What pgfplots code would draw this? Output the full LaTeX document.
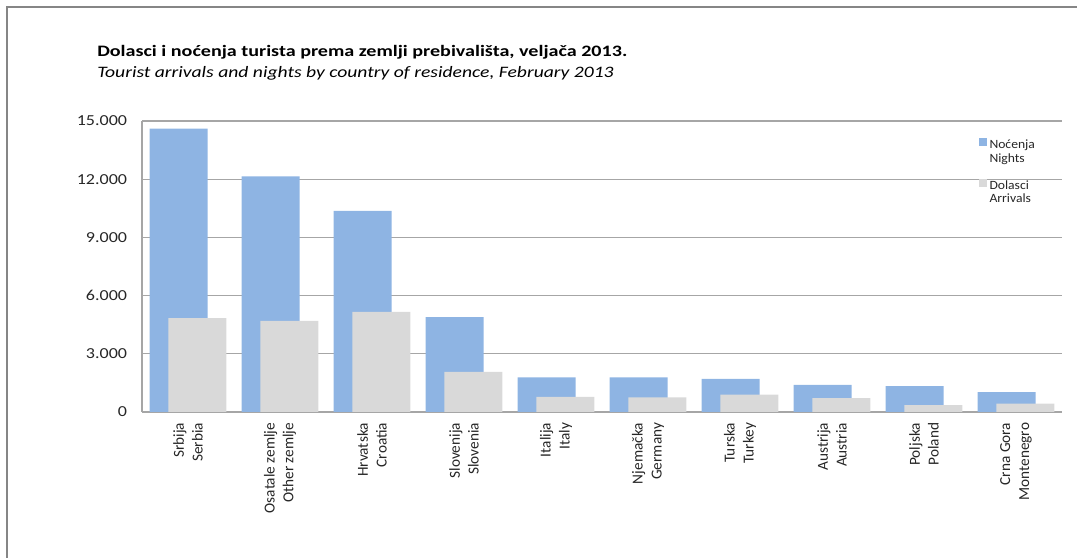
\documentclass[border=0pt]{standalone}
\usepackage{fontspec}
\setmainfont{Carlito}
\newfontfamily\titlefont[FakeStretch=1.26]{Carlito}
\newfontfamily\subfont[FakeStretch=1.23]{Carlito}
\newfontfamily\tickfont[FakeStretch=1.18]{Carlito}
\newfontfamily\legfont[FakeStretch=1.08]{Carlito}
\usepackage{pgfplots}
\pgfplotsset{compat=1.18}

\definecolor{nightsblue}{HTML}{8EB4E3}
\definecolor{arrgrey}{HTML}{D9D9D9}
\definecolor{gridgrey}{HTML}{A6A6A6}
\definecolor{framegrey}{HTML}{868686}
\definecolor{labtext}{HTML}{262626}

% nights (Nocenja) and arrivals (Dolasci), February 2013
\pgfplotstableread{
x nights arrivals
0 14610 4840
1 12140 4700
2 10370 5160
3  4890 2070
4  1790  785
5  1790  750
6  1710  900
7  1400  720
8  1340  350
9  1030  430
}\tourists

\begin{document}
\begin{tikzpicture}
\useasboundingbox (0,0) rectangle (807.75bp,418.5bp);
\draw[framegrey, line width=1bp] (5.25bp,0) -- (5.25bp,413.25bp) -- (807.75bp,413.25bp);

\node[anchor=base west, inner sep=0pt, font=\titlefont\fontsize{12}{14}\selectfont\bfseries] at (72.75bp,375.75bp)
  {Dolasci i noćenja turista prema zemlji prebivališta, veljača 2013.};
\node[anchor=base west, inner sep=0pt, font=\subfont\fontsize{12}{14}\selectfont\itshape] at (72.75bp,360bp)
  {Tourist arrivals and nights by country of residence, February 2013};

\begin{axis}[
  at={(106.5bp,109.5bp)}, anchor=south west,
  scale only axis, width=690bp, height=218.25bp,
  xmin=-0.5, xmax=9.5, ymin=0, ymax=15000,
  ytick={0,3000,6000,9000,12000,15000},
  xtick=data,
  xticklabels={
    Srbija\\Serbia,
    Osatale zemlje\\Other zemlje,
    Hrvatska\\Croatia,
    Slovenija\\Slovenia,
    Italija\\Italy,
    Njemačka\\Germany,
    Turska\\Turkey,
    Austrija\\Austria,
    Poljska\\Poland,
    Crna Gora\hspace{13bp}\\Montenegro},
  scaled y ticks=false,
  /pgf/number format/.cd, 1000 sep={.}, assume math mode=true, /pgfplots/.cd,
  major tick length=0pt,
  axis x line*=bottom, axis y line*=left,
  axis line style={gridgrey, line width=0.8bp},
  ymajorgrids, grid style={gridgrey, line width=0.8bp},
  yticklabel style={font=\tickfont\fontsize{11.5}{13}\selectfont, text=labtext, inner sep=0pt, xshift=-11bp},
  xticklabel shift=8bp,
  xticklabel style={font=\fontsize{11.5}{14.2}\selectfont, text=labtext, rotate=90, anchor=east,
    align=right, inner sep=0pt},
  ybar, bar width=43.5bp,
  legend style={at={(0.905,0.955)}, anchor=north west, draw=none, fill=none,
    font=\legfont\fontsize{9.5}{10.5}\selectfont, text=labtext,
    cells={anchor=west, align=left}, row sep=8bp},
  legend image code/.code={\fill[#1] (0bp,4.5bp) rectangle (6bp,10.5bp);},
]
\addplot[fill=nightsblue, draw=none, bar shift=-7.1bp] table[x=x, y=nights] {\tourists};
\addlegendentry{Noćenja\\Nights}
\addplot[fill=arrgrey, draw=none, bar shift=7.1bp] table[x=x, y=arrivals] {\tourists};
\addlegendentry{Dolasci\\Arrivals}
\end{axis}
\end{tikzpicture}
\end{document}
